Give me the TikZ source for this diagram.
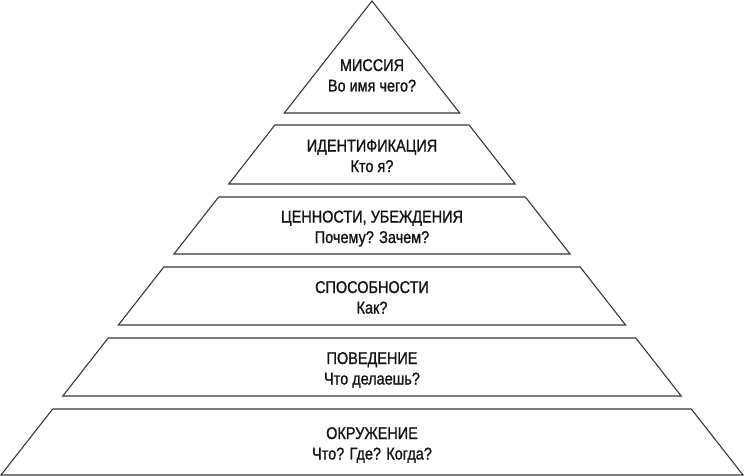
\documentclass[tikz,border=0pt]{standalone}
\usepackage{fontspec}
\setmainfont{Liberation Sans}[FakeStretch=0.85,FakeBold=1.2]
\begin{document}
\begin{tikzpicture}[x=1pt,y=-1pt,
  tier/.style={draw=black!78, line width=1.1pt, line join=miter, fill=white},
  lbl/.style={anchor=base, inner sep=0pt, font=\fontsize{17}{20}\selectfont, text=black!92}]
\useasboundingbox (0,0) rectangle (744,476);
\fill[white] (0,0) rectangle (744,476);
% tiers (slices of one triangle, apex (372,1), base 1..743 at y=475)
\draw[tier] (372,1) -- (459.7,113) -- (284.3,113) -- cycle;
\draw[tier] (274.9,125) -- (469.1,125) -- (515.2,184) -- (228.8,184) -- cycle;
\draw[tier] (218.6,197) -- (525.4,197) -- (570.0,254) -- (174.0,254) -- cycle;
\draw[tier] (163.8,267) -- (580.2,267) -- (625.6,325) -- (118.4,325) -- cycle;
\draw[tier] (108.2,338) -- (635.8,338) -- (681.2,396) -- (62.8,396) -- cycle;
\draw[tier] (52.7,409) -- (691.3,409) -- (743,475) -- (1,475) -- cycle;
% labels
\node[lbl] (t1a) at (372,71) {МИССИЯ};
\node[lbl] (t1b) at (372,91.5) {Во имя чего?};
\node[lbl] (t2a) at (372,151.5) {ИДЕНТИФИКАЦИЯ};
\node[lbl] (t2b) at (372,172) {Кто я?};
\node[lbl] (t3a) at (372,222.5) {ЦЕННОСТИ, УБЕЖДЕНИЯ};
\node[lbl] (t3b) at (372,243) {Почему? Зачем?};
\node[lbl] (t4a) at (372,293) {СПОСОБНОСТИ};
\node[lbl] (t4b) at (372,313.5) {Как?};
\node[lbl] (t5a) at (372,364) {ПОВЕДЕНИЕ};
\node[lbl] (t5b) at (372,384.5) {Что делаешь?};
\node[lbl] (t6a) at (372,439) {ОКРУЖЕНИЕ};
\node[lbl] (t6b) at (372,459.5) {Что? Где? Когда?};
\end{tikzpicture}
\end{document}
